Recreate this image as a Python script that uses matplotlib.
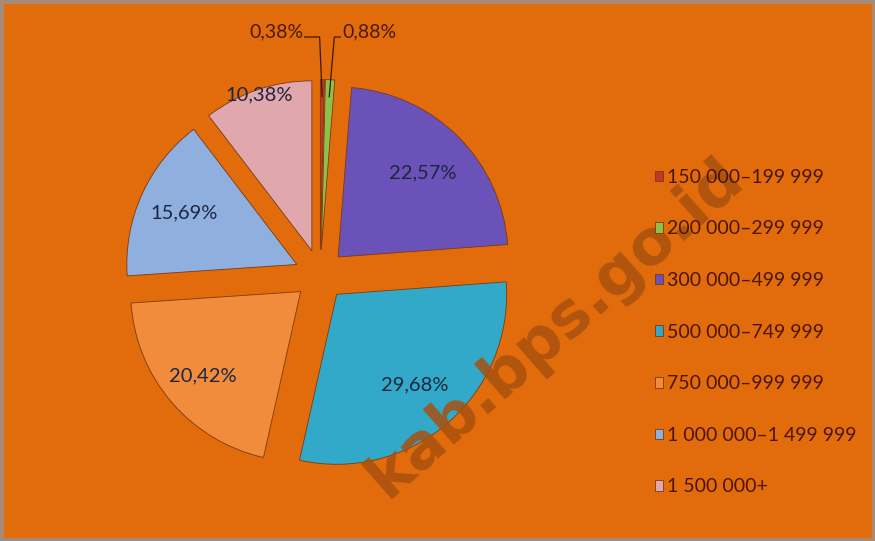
import numpy as np
import matplotlib
matplotlib.use("Agg")
import matplotlib.pyplot as plt
from matplotlib.patches import Rectangle

plt.rcParams['font.family'] = ['Lato', 'DejaVu Sans']

# data
categories = ["150 000\u2013199 999", "200 000\u2013299 999", "300 000\u2013499 999",
              "500 000\u2013749 999", "750 000\u2013999 999", "1 000 000\u20131 499 999",
              "1 500 000+"]
shares = [0.38, 0.88, 22.57, 29.68, 20.42, 15.69, 10.38]
colors = ["#c0392b", "#8fc04a", "#6a52b8", "#33a9c9", "#f08c3c", "#8fb0de", "#e0a7ad"]

BG = "#e26c0b"
fig = plt.figure(figsize=(8.75, 5.41), dpi=100, facecolor=BG)
ax = fig.add_axes([0.1229, 0.0989, 0.4857, 0.7856])
ax.set_facecolor(BG)

explode = [0.15] * len(shares)
wedges, _ = ax.pie(shares, colors=colors, startangle=90, counterclock=False,
                   explode=explode, radius=1.0,
                   wedgeprops=dict(linewidth=0.6, edgecolor="#7a3a10"))
ax.set_xlim(-1.25, 1.25)
ax.set_ylim(-1.25, 1.25)
ax.set_aspect("equal")
ax.axis("off")

label_dist = [None, None, 0.70, 0.70, 0.76, 0.73, 0.97]
for w, val, d, e in zip(wedges, shares, label_dist, explode):
    if d is None:
        continue
    ang = np.deg2rad((w.theta1 + w.theta2) / 2)
    cx, cy = w.center
    ax.text(cx + d * np.cos(ang), cy + d * np.sin(ang),
            f"{val:.2f}%".replace(".", ","), ha="center", va="center",
            fontsize=14.5, color="#1d2640")

# small slices: labels above with leader lines
small = [(0, -0.09, "right"), (1, 0.12, "left")]
for idx, tx, ha in small:
    w = wedges[idx]
    ang = np.deg2rad((w.theta1 + w.theta2) / 2)
    cx, cy = w.center
    px, py = cx + 0.9 * np.cos(ang), cy + 0.9 * np.sin(ang)
    ly = 1.40
    bend = px - 0.015 if ha == "right" else px + 0.03
    ax.plot([px, bend, tx], [py, ly, ly], color="#3a1a05", lw=0.9, clip_on=False)
    ax.text(tx + (-0.01 if ha == "right" else 0.01), ly + 0.03,
            f"{shares[idx]:.2f}%".replace(".", ","), ha=ha, va="center",
            fontsize=14, color="#4a1a05")

leg = fig.legend(wedges, categories, loc="upper left",
                 bbox_to_anchor=(0.737, 0.706), frameon=False,
                 fontsize=14, labelcolor="#4a1505", handlelength=0.45,
                 handleheight=0.45, handletextpad=0.2, labelspacing=1.78,
                 borderpad=0)

# watermark
fig.text(0.635, 0.395, "kab.bps.go.id", rotation=41.5, fontsize=45,
         fontweight="bold", color="#a8500f", alpha=0.85,
         ha="center", va="center", family="DejaVu Sans")

fig.patches.append(Rectangle((0, 0), 1, 1, transform=fig.transFigure,
                             fill=False, edgecolor="#a68a78", linewidth=5))

fig.savefig("out.png", dpi=100, facecolor=BG)
